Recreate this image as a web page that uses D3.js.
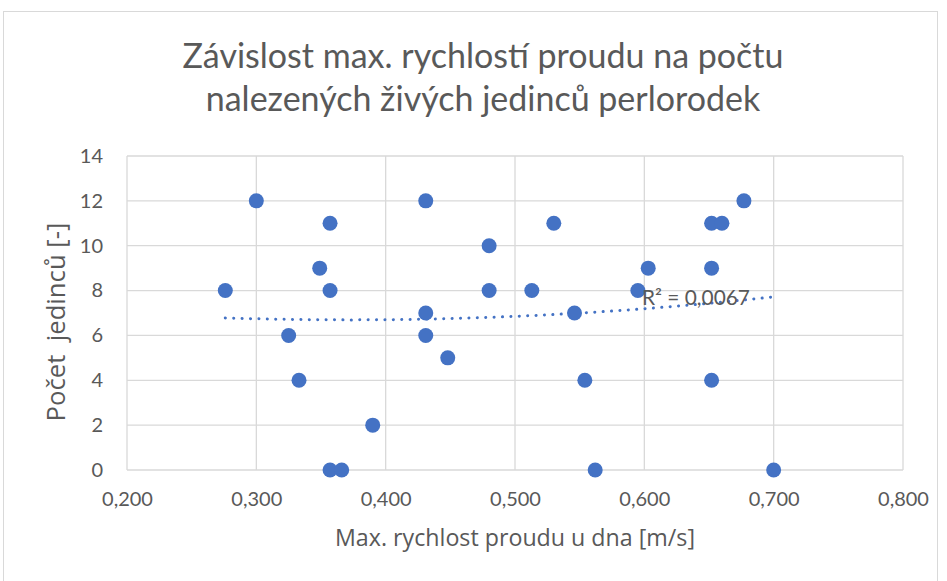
<!DOCTYPE html>
<html lang="cs">
<head>
<meta charset="UTF-8">
<title>Závislost max. rychlostí proudu</title>
<script src="https://d3js.org/d3.v7.min.js"></script>
<style>
  body { margin: 0; background: #fff; }
  text { font-family: Lato, "Open Sans", sans-serif; fill: #595959; }
</style>
</head>
<body>
<div id="chart"></div>
<script>
// Max. rychlost proudu u dna [m/s]
const speeds = [0.276, 0.300, 0.325, 0.333, 0.349, 0.357, 0.357, 0.357, 0.366, 0.390,
                0.431, 0.431, 0.431, 0.448, 0.480, 0.480, 0.513, 0.530, 0.546, 0.554,
                0.562, 0.595, 0.603, 0.652, 0.652, 0.652, 0.660, 0.677, 0.700];
// Počet jedinců
const counts = [8, 12, 6, 4, 9, 11, 8, 0, 0, 2,
                12, 7, 6, 5, 10, 8, 8, 11, 7, 4,
                0, 8, 9, 11, 9, 4, 11, 12, 0];
const xTicks = [0.2, 0.3, 0.4, 0.5, 0.6, 0.7, 0.8];
const yTicks = [0, 2, 4, 6, 8, 10, 12, 14];
const titleLines = ["Závislost max. rychlostí proudu na počtu", "nalezených živých jedinců perlorodek"];
const rSquaredLabel = "R² = 0,0067";

const width = 947, height = 581;
const margin = { left: 127, right: 44, top: 156, bottom: 111 };

const svg = d3.select("#chart").append("svg")
    .attr("width", width)
    .attr("height", height);

// shrink/grow a text's font so that it spans roughly the given width
function fitWidth(sel, target) {
    const node = sel.node();
    const size = parseFloat(sel.style("font-size"));
    const w = node.getComputedTextLength();
    if (w > 0) sel.style("font-size", (size * target / w).toFixed(2) + "px");
    return sel;
}

// chart frame
svg.append("rect")
    .attr("x", 3.5).attr("y", 11.5)
    .attr("width", 934).attr("height", 580)
    .attr("fill", "#fff")
    .attr("stroke", "#d9d9d9");

const x = d3.scaleLinear().domain([0.2, 0.8]).range([margin.left, width - margin.right]);
const y = d3.scaleLinear().domain([0, 14]).range([height - margin.bottom, margin.top]);

// gridlines
svg.append("g")
    .selectAll("line.vgrid")
    .data(xTicks)
    .enter().append("line")
    .attr("x1", d => x(d)).attr("x2", d => x(d))
    .attr("y1", y(0)).attr("y2", y(14))
    .attr("stroke", "#d9d9d9").attr("stroke-width", 1.3);

svg.append("g")
    .selectAll("line.hgrid")
    .data(yTicks)
    .enter().append("line")
    .attr("x1", x(0.2)).attr("x2", x(0.8))
    .attr("y1", d => y(d)).attr("y2", d => y(d))
    .attr("stroke", "#d9d9d9").attr("stroke-width", 1.3);

// axes (labels only)
const fmt = d => d3.format(".3f")(d).replace(".", ",");
const xAxis = svg.append("g")
    .attr("transform", `translate(0,${y(0)})`)
    .call(d3.axisBottom(x).tickValues(xTicks).tickFormat(fmt).tickSize(0).tickPadding(22));
const yAxis = svg.append("g")
    .attr("transform", `translate(${x(0.2)},0)`)
    .call(d3.axisLeft(y).tickValues(yTicks).tickSize(0).tickPadding(24));
[xAxis, yAxis].forEach(a => {
    a.select(".domain").remove();
    a.selectAll("text").attr("fill", "#595959").style("font-size", "20px")
        .style("font-family", "Lato, 'Open Sans', sans-serif");
});

// polynomial (order 2) trendline, least squares
const n = speeds.length;
let S = [0, 0, 0, 0, 0], T = [0, 0, 0];
for (let i = 0; i < n; i++) {
    for (let k = 0; k < 5; k++) S[k] += Math.pow(speeds[i], k);
    for (let k = 0; k < 3; k++) T[k] += counts[i] * Math.pow(speeds[i], k);
}
function solve3(A, b) {
    const M = A.map((r, i) => r.concat([b[i]]));
    for (let c = 0; c < 3; c++) {
        for (let r = c + 1; r < 3; r++) {
            const f = M[r][c] / M[c][c];
            for (let k = c; k < 4; k++) M[r][k] -= f * M[c][k];
        }
    }
    const s = [0, 0, 0];
    for (let r = 2; r >= 0; r--) {
        let v = M[r][3];
        for (let k = r + 1; k < 3; k++) v -= M[r][k] * s[k];
        s[r] = v / M[r][r];
    }
    return s;
}
const coef = solve3([[S[0], S[1], S[2]], [S[1], S[2], S[3]], [S[2], S[3], S[4]]], T);
const xMin = d3.min(speeds), xMax = d3.max(speeds);
const trendX = d3.range(0, 51).map(i => xMin + (xMax - xMin) * i / 50);
const line = d3.line()
    .x(d => x(d))
    .y(d => y(coef[0] + coef[1] * d + coef[2] * d * d));

svg.append("path")
    .datum(trendX)
    .attr("d", line)
    .attr("fill", "none")
    .attr("stroke", "#4472c4")
    .attr("stroke-width", 3)
    .attr("stroke-linecap", "round")
    .attr("stroke-dasharray", "0.1 8.3");

// points
svg.append("g")
    .selectAll("circle")
    .data(speeds.map((s, i) => [s, counts[i]]))
    .enter().append("circle")
    .attr("cx", d => x(d[0]))
    .attr("cy", d => y(d[1]))
    .attr("r", 7.5)
    .attr("fill", "#4472c4");

// R² label
fitWidth(svg.append("text")
    .attr("x", 642).attr("y", 305)
    .style("font-size", "20px")
    .text(rSquaredLabel), 108);

// title
svg.append("g").selectAll("text")
    .data(titleLines)
    .enter().append("text")
    .attr("x", 483)
    .attr("y", (d, i) => 68 + i * 43)
    .attr("text-anchor", "middle")
    .style("font-size", "34px")
    .text(d => d);

// axis titles
fitWidth(svg.append("text")
    .attr("x", 515).attr("y", 546)
    .attr("text-anchor", "middle")
    .style("font-family", "'Open Sans', Lato, sans-serif")
    .style("font-size", "22px")
    .text("Max. rychlost proudu u dna [m/s]"), 360);

fitWidth(svg.append("text")
    .attr("transform", `translate(65,322) rotate(-90)`)
    .attr("text-anchor", "middle")
    .style("font-family", "'Open Sans', Lato, sans-serif")
    .style("font-size", "22px")
    .style("white-space", "pre")
    .text("Počet  jedinců [-]"), 199);
</script>
</body>
</html>
